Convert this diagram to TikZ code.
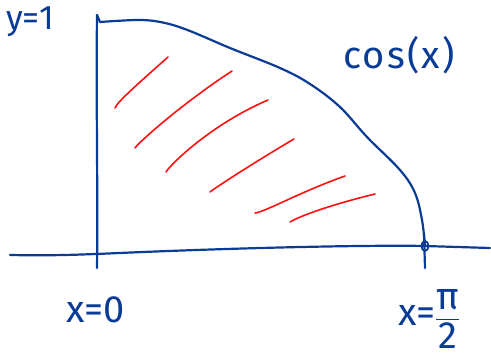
\documentclass[tikz,border=0pt]{standalone}
\usepackage{amsmath}
\usepackage{fontspec}
\setmainfont{Fira Sans}
\usepackage{xcolor}
\usetikzlibrary{calc}
\definecolor{inkblue}{HTML}{0A3C96}
\definecolor{inkred}{HTML}{FF1010}

\begin{document}
\begin{tikzpicture}[
    x=1pt, y=-1pt,
    ink/.style={draw=inkblue, line width=2.2pt, line cap=round, line join=round},
    hatch/.style={draw=inkred, line width=1.6pt, line cap=round},
    lbl/.style={text=inkblue, font=\fontsize{38}{40}\selectfont, inner sep=0pt},
]
    \useasboundingbox (0,0) rectangle (491,358);

    % Axes
    \coordinate (ax_l) at (10,255);
    \coordinate (ax_r) at (490,248);
    \coordinate (o) at (97,254);
    \coordinate (top) at (97,15);
    \coordinate (end) at (425,246);
    \draw[ink] (ax_l) .. controls (60,256) and (90,254) .. (o)
        .. controls (250,247) and (380,245) .. (end) -- (ax_r);
    \draw[ink] (top) .. controls (96,100) and (98,200) .. ($(o)+(0,14)$);
    \draw[ink] (end) ++(-1,-12) -- ++(1,34);
    \draw[ink, line width=1.8pt] (end) ellipse (3.5 and 5);

    % cos(x) curve
    \draw[ink] (top) -- plot[smooth, tension=0.6] coordinates {(100,22) (140,20) (165,23)
        (190,31) (230,48) (280,68) (310,84) (340,107) (367,137) (400,170)
        (415,193) (422,220) (425,246)};

    % Shading strokes
    \draw[hatch] (115,108) .. controls (117,102) and (140,82) .. (168,57);
    \draw[hatch] (135,148) .. controls (137,144) and (180,105) .. (232,71);
    \draw[hatch] (166,172) .. controls (170,165) and (210,125) .. (268,100);
    \draw[hatch] (210,192) .. controls (215,188) and (250,165) .. (294,139);
    \draw[hatch] (255,213) .. controls (265,212) and (300,192) .. (345,176);
    \draw[hatch] (290,222) .. controls (300,216) and (330,205) .. (375,194);

    % Labels
    \node[lbl, anchor=west, font=\fontsize{34}{36}\selectfont] (y_one) at (6,22) {y=1};
    \node[lbl, anchor=west, font=\fontsize{38}{40}\selectfont\addfontfeatures{LetterSpace=6}] (cos_lbl) at (343,55) {cos(x)};
    \node[lbl, anchor=west] (x_zero) at (66,310) {x=0};
    \node[lbl, anchor=west] (x_half) at (398,319) {x=$\dfrac{\text{π}}{\text{2}}$};
\end{tikzpicture}
\end{document}
